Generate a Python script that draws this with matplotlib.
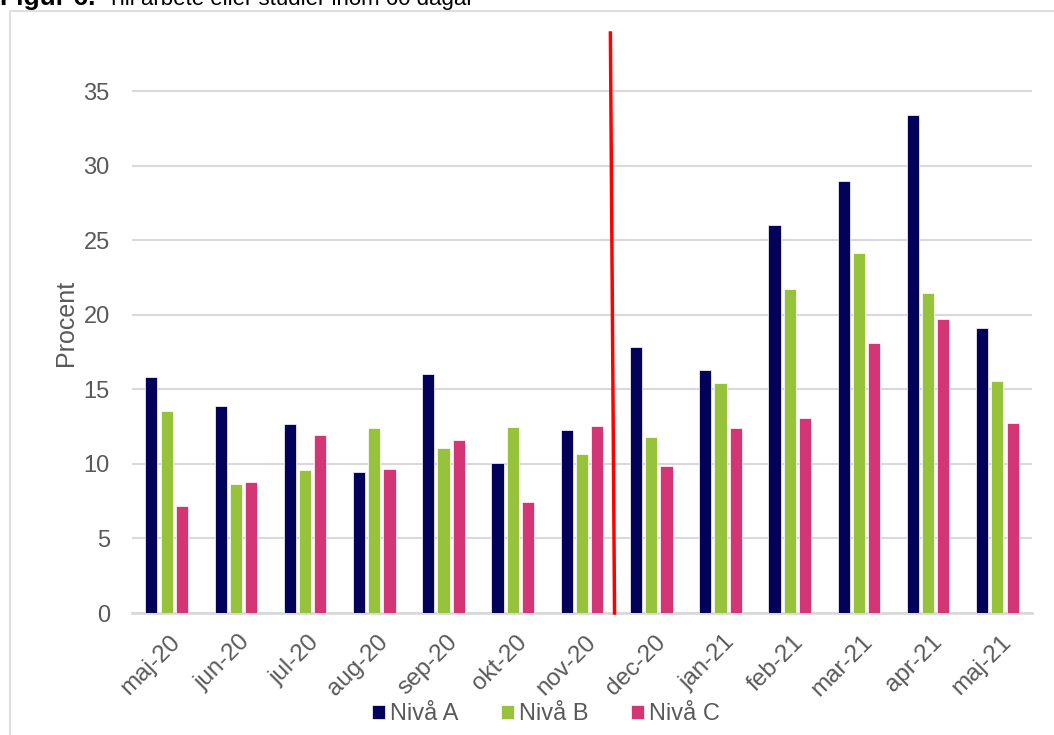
import matplotlib.pyplot as plt
import matplotlib.transforms as mtransforms
import numpy as np
from matplotlib.patches import Rectangle

plt.rcParams['font.family'] = ['Liberation Sans', 'DejaVu Sans']

# Data
months = ['maj-20', 'jun-20', 'jul-20', 'aug-20', 'sep-20', 'okt-20', 'nov-20',
          'dec-20', 'jan-21', 'feb-21', 'mar-21', 'apr-21', 'maj-21']
niva_a = [15.83, 13.86, 12.65, 9.49, 16.03, 10.03, 12.29,
          17.87, 16.33, 26.05, 28.95, 33.37, 19.13]
niva_b = [13.52, 8.67, 9.61, 12.40, 11.09, 12.47, 10.65,
          11.83, 15.43, 21.75, 24.17, 21.43, 15.56]
niva_c = [7.17, 8.76, 11.92, 9.64, 11.63, 7.44, 12.52,
          9.89, 12.41, 13.08, 18.09, 19.69, 12.74]
series_names = ['Nivå A', 'Nivå B', 'Nivå C']
colors = ['#02025a', '#97c23c', '#d43574']

# red marker line between nov-20 and dec-20 (x at bottom, x at top, y top)
marker_x = [6.47, 6.41]
marker_y = [0, 38.9]

text_color = '#595959'
grid_color = '#d9d9d9'

fig = plt.figure(figsize=(10.54, 7.35), dpi=100)
ax = fig.add_axes([132 / 1054, 1 - 613 / 735, 900 / 1054, (613 - 33) / 735])

x = np.arange(len(months))
step = 0.22
width = 0.175
for i, (vals, name, col) in enumerate(zip([niva_a, niva_b, niva_c], series_names, colors)):
    ax.bar(x + (i - 1) * step, vals, width, color=col, label=name,
           edgecolor='white', linewidth=0.5, zorder=3)

ax.plot(marker_x, marker_y, color='#ff0000', linewidth=2.5, zorder=4, clip_on=False)

ax.set_xlim(-0.5, len(months) - 0.5)
ax.set_ylim(0, 38.9)
ax.set_yticks(range(0, 36, 5))
ax.yaxis.grid(True, color=grid_color, linewidth=1.5, zorder=0)
ax.set_axisbelow(True)
for side in ['top', 'right', 'left']:
    ax.spines[side].set_visible(False)
ax.spines['bottom'].set_color(grid_color)
ax.spines['bottom'].set_linewidth(2)

ax.set_xticks(x)
ax.set_xticklabels(months, rotation=45, ha='right', rotation_mode='anchor')
ax.tick_params(axis='x', length=0, pad=13, labelsize=17.5, labelcolor=text_color)
ax.tick_params(axis='y', length=0, pad=16, labelsize=17, labelcolor=text_color)
ax.set_ylabel('Procent', fontsize=18, color=text_color, labelpad=4)

# nudge the rotated month labels a little to the right
shift = mtransforms.ScaledTranslation(3 / 100, 0, fig.dpi_scale_trans)
for lbl in ax.get_xticklabels():
    lbl.set_transform(lbl.get_transform() + shift)

# legend below chart
handles, labels = ax.get_legend_handles_labels()
fig.legend(handles, labels, loc='center', bbox_to_anchor=(546 / 1054, 1 - 714 / 735),
           ncol=3, frameon=False, fontsize=17, labelcolor=text_color,
           handlelength=0.55, handleheight=0.55, handletextpad=0.21,
           columnspacing=1.82, borderpad=0.1)

# chart border and cut-off title
fig.patches.append(Rectangle((9.5 / 1054, -0.1), 1.2, 1 - 11 / 735 + 0.1,
                             transform=fig.transFigure, fill=False,
                             edgecolor=grid_color, linewidth=1.2))
fig.text(0, 1 - 5 / 735, 'Figur 6.', fontsize=19, fontweight='bold',
         va='baseline', ha='left', color='black')
fig.text(107 / 1054, 1 - 5 / 735, 'Till arbete eller studier inom 60 dagar',
         fontsize=16, va='baseline', ha='left', color='black')

fig.savefig('out.png', dpi=100)
